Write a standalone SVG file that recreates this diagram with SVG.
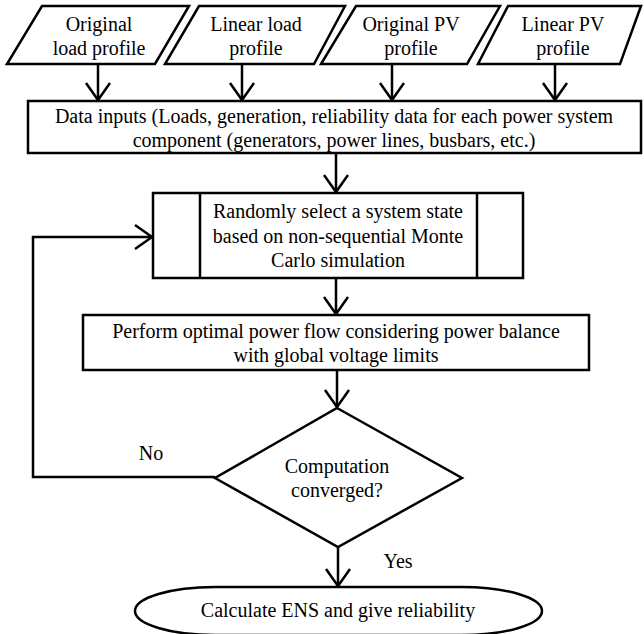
<svg xmlns="http://www.w3.org/2000/svg" width="644" height="634" viewBox="0 0 644 634">
<style>
.s{fill:#fff;stroke:#000;stroke-width:2.5;stroke-linejoin:miter}
.c{fill:none;stroke:#000;stroke-width:2.5}
text{font-family:'Liberation Serif','Times New Roman',Times,'Noto Serif',FreeSerif,serif;font-size:20px;fill:#000;text-anchor:middle}
</style>
<defs>
<marker id="ar" markerUnits="userSpaceOnUse" viewBox="-20 -15 24 30" refX="0" refY="0" markerWidth="24" markerHeight="30" orient="auto" overflow="visible">
<path d="M-17,-12 L0,0 L-17,12" fill="none" stroke="#000" stroke-width="2.5"/>
</marker>
</defs>
<rect width="644" height="634" fill="#fff"/>
<g id="n1"><polygon class="s" points="42,6 189,6 155,64 7,64"/><text x="99" y="31">Original</text><text x="99" y="55">load profile</text></g>
<g id="n2"><polygon class="s" points="199,6 345,6 314,64 165,64"/><text x="256" y="31">Linear load</text><text x="256" y="55">profile</text></g>
<g id="n3"><polygon class="s" points="356,6 500,6 467,64 321,64"/><text x="411" y="31">Original PV</text><text x="411" y="55">profile</text></g>
<g id="n4"><polygon class="s" points="508,6 641,6 620,64 478,64"/><text x="563" y="31">Linear PV</text><text x="563" y="55">profile</text></g>
<g id="n5"><rect class="s" x="28" y="101" width="613" height="52"/><text x="334" y="123">Data inputs (Loads, generation, reliability data for each power system</text><text x="334" y="147">component (generators, power lines, busbars, etc.)</text></g>
<g id="n6"><rect class="s" x="153" y="193" width="370" height="85"/><line class="c" x1="200" y1="193" x2="200" y2="278"/><line class="c" x1="477" y1="193" x2="477" y2="278"/><text x="338" y="218">Randomly select a system state</text><text x="338" y="243">based on non-sequential Monte</text><text x="338" y="267">Carlo simulation</text></g>
<g id="n7"><rect class="s" x="83" y="315" width="506" height="55"/><text x="336" y="338">Perform optimal power flow considering power balance</text><text x="336" y="362">with global voltage limits</text></g>
<g id="n8"><polygon class="s" points="337,408 462,478 338,547 215,478"/><text x="337" y="473">Computation</text><text x="337" y="497">converged?</text></g>
<g id="n9"><rect class="s" x="135" y="587" width="407" height="48" rx="80" ry="24"/><text x="338" y="617">Calculate ENS and give reliability</text></g>
<g id="connectors">
<line class="c" x1="98" y1="64" x2="98" y2="100" marker-end="url(#ar)"/>
<line class="c" x1="242" y1="64" x2="242" y2="100" marker-end="url(#ar)"/>
<line class="c" x1="392" y1="64" x2="392" y2="100" marker-end="url(#ar)"/>
<line class="c" x1="555" y1="64" x2="555" y2="100" marker-end="url(#ar)"/>
<line class="c" x1="336" y1="153" x2="336" y2="192" marker-end="url(#ar)"/>
<line class="c" x1="336" y1="278" x2="336" y2="314" marker-end="url(#ar)"/>
<line class="c" x1="337" y1="370" x2="337" y2="407" marker-end="url(#ar)"/>
<polyline class="c" points="215,477 33,477 33,237 152,237" marker-end="url(#ar)"/>
<line class="c" x1="338" y1="547" x2="338" y2="586" marker-end="url(#ar)"/>
<text x="151" y="460">No</text>
<text x="398" y="568">Yes</text>
</g>
</svg>
